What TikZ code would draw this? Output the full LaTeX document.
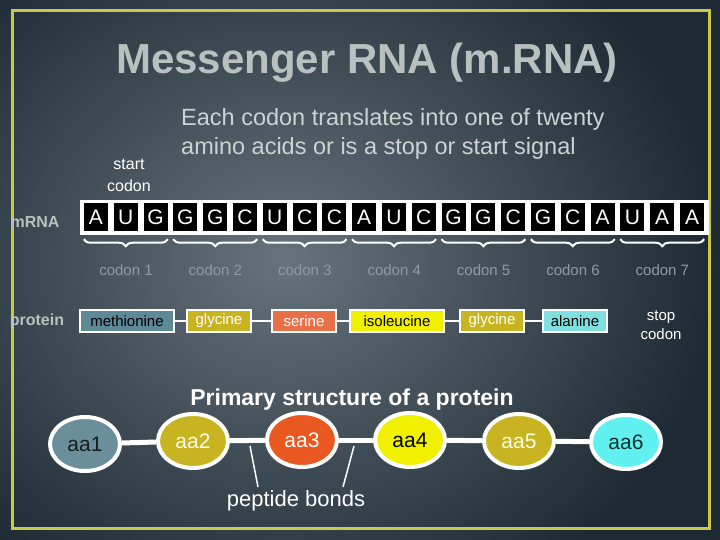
\documentclass[tikz,border=0pt]{standalone}
\usepackage{fontspec}
\setmainfont{Liberation Sans}
\usetikzlibrary{shapes.geometric,decorations.pathreplacing}
\definecolor{frameY}{HTML}{C8C84A}
\definecolor{codonG}{HTML}{8A9CA4}
\definecolor{labG}{HTML}{B8C0C0}
\definecolor{cMet}{HTML}{5E8A98}
\definecolor{cGly}{HTML}{C8B420}
\definecolor{cSer}{HTML}{E87048}
\definecolor{cIle}{HTML}{F0F000}
\definecolor{cAla}{HTML}{80E0E0}
\definecolor{cAa1}{HTML}{6A8F9A}
\definecolor{cAa3}{HTML}{E85820}
\definecolor{cAa6}{HTML}{60F0F0}
\definecolor{bgIn}{HTML}{66727C}
\definecolor{bgOut}{HTML}{1E2A33}
\begin{document}
\begin{tikzpicture}[x=1pt,y=-1pt,
  base/.style={inner sep=0pt,font=\fontsize{15}{17}\selectfont},
  letter/.style={fill=black,text=white,minimum width=24pt,minimum height=28pt,inner sep=0pt,font=\fontsize{21}{21}\selectfont},
  codonlab/.style={text=codonG,font=\fontsize{15}{17}\selectfont},
  aabox/.style={draw=white,line width=1.5pt,minimum height=22pt,inner sep=2pt,font=\fontsize{15}{17}\selectfont},
  aacirc/.style={ellipse,draw=white,line width=4pt,minimum width=70pt,minimum height=54pt,inner sep=1pt,font=\fontsize{21}{21}\selectfont},
  bond/.style={white,line width=2pt},
  pbond/.style={white,line width=5pt},
  brace/.style={white,line width=2pt,decorate,decoration={brace,amplitude=7pt,mirror}}]
\useasboundingbox (0,0) rectangle (720,540);
\shade[inner color=bgIn,outer color=bgOut] (-150,-120) rectangle (720,640);
\draw[frameY,line width=3pt] (12,11) rectangle (709,528);
\node[base,text=labG,font=\bfseries\fontsize{42}{42}\selectfont] (title) at (367,63) {Messenger RNA (m.RNA)};
\node[base,anchor=north west,align=left,text=labG!70!white,font=\fontsize{23.5}{29}\selectfont] (note) at (181,108) {Each codon translates into one of twenty\\amino acids or is a stop or start signal};
\node[base,align=center,text=white,font=\fontsize{16}{22}\selectfont] (start) at (129,175) {start\\codon};
\node[base,text=labG,font=\bfseries\fontsize{16}{16}\selectfont] (mrna) at (35,222) {mRNA};
\fill[white] (80,200) rectangle (709,235) ;
\foreach \l [count=\i] in {A,U,G,G,G,C,U,C,C,A,U,C,G,G,C,G,C,A,U,A,A}{
  \node[letter] (b\i) at ({96+(\i-1)*29.8},217) {\l};
}
\foreach \k in {1,...,7}{
  \pgfmathtruncatemacro\a{3*\k-2}\pgfmathtruncatemacro\b{3*\k}
  \draw[brace] ([yshift=-8pt]b\a.south west) -- ([yshift=-8pt]b\b.south east);
  \node[codonlab] (c\k) at ({126+(\k-1)*89.4},270) {codon \k};
}
\node[base,text=labG,font=\bfseries\fontsize{16}{16}\selectfont] (prot) at (37,321) {protein};
\node[aabox,fill=cMet,text=black,minimum width=94pt] (p1) at (127,321) {methionine};
\node[aabox,fill=cGly,text=white,minimum width=64pt] (p2) at (219,321) {glycine};
\node[aabox,fill=cSer,text=white,minimum width=64pt] (p3) at (304,321) {serine};
\node[aabox,fill=cIle,text=black,minimum width=94pt] (p4) at (397,321) {isoleucine};
\node[aabox,fill=cGly,text=white,minimum width=64pt] (p5) at (492,321) {glycine};
\node[aabox,fill=cAla,text=black,minimum width=64pt] (p6) at (575,321) {alanine};
\node[base,align=center,text=white,font=\fontsize{15}{19}\selectfont] (stop) at (661,325) {stop\\codon};
\foreach \i/\j in {1/2,2/3,3/4,4/5,5/6}{\draw[bond] (p\i) -- (p\j);}
\node[base,text=white,font=\bfseries\fontsize{23}{23}\selectfont] (prim) at (352,400) {Primary structure of a protein};
\node[aacirc,fill=cAa1,text=black!80!cAa1] (a1) at (85,444) {aa1};
\node[aacirc,fill=cGly,text=white!90!yellow] (a2) at (193,441) {aa2};
\node[aacirc,fill=cAa3,text=white] (a3) at (302,440) {aa3};
\node[aacirc,fill=cIle,text=black] (a4) at (410,440) {aa4};
\node[aacirc,fill=cGly,text=white!90!yellow] (a5) at (519,441) {aa5};
\node[aacirc,fill=cAa6,text=black!80!cAa6] (a6) at (626,442) {aa6};
\foreach \i/\j in {1/2,2/3,3/4,4/5,5/6}{\draw[pbond] (a\i) -- (a\j);}
\node[base,text=white,font=\fontsize{22}{22}\selectfont] (pep) at (296,501) {peptide bonds};
\coordinate (m1) at (250,446);
\coordinate (m2) at (354,446);
\draw[white,line width=1.5pt] (m1) -- (258,487);
\draw[white,line width=1.5pt] (m2) -- (343,487);
\end{tikzpicture}
\end{document}
